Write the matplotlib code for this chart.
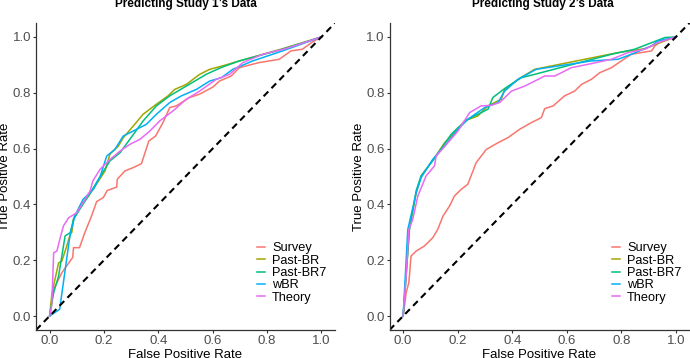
import matplotlib
matplotlib.use("Agg")
import matplotlib.pyplot as plt

plt.rcParams['font.family'] = ['Liberation Sans', 'DejaVu Sans']

series_names = ["Survey", "Past-BR", "Past-BR7", "wBR", "Theory"]
colors = ["#F8766D", "#A3A500", "#00BF7D", "#00B0F6", "#E76BF3"]
titles = ["Predicting Study 1\u2019s Data", "Predicting Study 2\u2019s Data"]
ticks = [0.0, 0.2, 0.4, 0.6, 0.8, 1.0]
tick_labels = ["0.0", "0.2", "0.4", "0.6", "0.8", "1.0"]

# ---- Study 1 ----
s1_survey_fpr = [0, 0.015, 0.045, 0.063, 0.085, 0.088, 0.11, 0.13, 0.155, 0.173, 0.198, 0.212, 0.247, 0.249, 0.277, 0.308, 0.338, 0.365, 0.39, 0.417, 0.442, 0.466, 0.515, 0.552, 0.6, 0.625, 0.668, 0.698, 0.77, 0.845, 0.888, 0.93, 0.967, 1.0]
s1_survey_tpr = [0, 0.096, 0.155, 0.18, 0.21, 0.245, 0.245, 0.3, 0.36, 0.41, 0.425, 0.45, 0.462, 0.49, 0.52, 0.532, 0.546, 0.627, 0.645, 0.693, 0.747, 0.753, 0.783, 0.795, 0.82, 0.842, 0.86, 0.89, 0.908, 0.92, 0.95, 0.956, 0.982, 1.0]

s1_pastbr_fpr = [0, 0.009, 0.033, 0.045, 0.063, 0.076, 0.082, 0.088, 0.112, 0.143, 0.18, 0.204, 0.222, 0.253, 0.271, 0.308, 0.344, 0.393, 0.436, 0.46, 0.503, 0.552, 0.589, 0.635, 0.698, 0.851, 1.0]
s1_pastbr_tpr = [0, 0.084, 0.19, 0.197, 0.25, 0.293, 0.30, 0.35, 0.394, 0.43, 0.484, 0.52, 0.58, 0.609, 0.639, 0.681, 0.723, 0.759, 0.789, 0.812, 0.83, 0.866, 0.884, 0.896, 0.914, 0.956, 1.0]

s1_pastbr7_fpr = [0, 0.015, 0.033, 0.057, 0.076, 0.088, 0.112, 0.149, 0.186, 0.222, 0.259, 0.295, 0.344, 0.393, 0.442, 0.503, 0.576, 0.63, 0.698, 0.857, 1.0]
s1_pastbr7_tpr = [0, 0.084, 0.143, 0.287, 0.299, 0.346, 0.384, 0.44, 0.5, 0.556, 0.585, 0.633, 0.699, 0.753, 0.789, 0.824, 0.866, 0.89, 0.914, 0.956, 1.0]

s1_wbr_fpr = [0, 0.037, 0.073, 0.08, 0.093, 0.123, 0.161, 0.186, 0.21, 0.24, 0.271, 0.308, 0.356, 0.393, 0.442, 0.485, 0.54, 0.589, 0.632, 0.674, 0.747, 0.857, 1.0]
s1_wbr_tpr = [0, 0.024, 0.275, 0.31, 0.358, 0.418, 0.454, 0.5, 0.573, 0.597, 0.645, 0.663, 0.687, 0.723, 0.765, 0.789, 0.812, 0.842, 0.854, 0.884, 0.914, 0.95, 1.0]

s1_theory_fpr = [0, 0.008, 0.015, 0.027, 0.039, 0.051, 0.07, 0.1, 0.123, 0.149, 0.159, 0.186, 0.222, 0.259, 0.295, 0.332, 0.369, 0.405, 0.454, 0.503, 0.552, 0.613, 0.662, 0.711, 0.784, 0.869, 1.0]
s1_theory_tpr = [0, 0.04, 0.227, 0.233, 0.28, 0.323, 0.352, 0.37, 0.406, 0.448, 0.484, 0.526, 0.561, 0.591, 0.615, 0.633, 0.663, 0.699, 0.735, 0.777, 0.806, 0.848, 0.866, 0.908, 0.938, 0.958, 1.0]

# ---- Study 2 ----
s2_survey_fpr = [0, 0.005, 0.011, 0.021, 0.029, 0.048, 0.078, 0.109, 0.127, 0.146, 0.17, 0.188, 0.213, 0.237, 0.268, 0.305, 0.348, 0.384, 0.427, 0.47, 0.507, 0.519, 0.55, 0.592, 0.629, 0.654, 0.69, 0.721, 0.764, 0.8, 0.837, 0.886, 0.911, 0.923, 0.947, 1.0]
s2_survey_tpr = [0, 0.036, 0.084, 0.12, 0.215, 0.233, 0.251, 0.281, 0.311, 0.358, 0.394, 0.43, 0.454, 0.472, 0.55, 0.597, 0.621, 0.639, 0.669, 0.693, 0.711, 0.743, 0.753, 0.789, 0.806, 0.83, 0.848, 0.872, 0.89, 0.914, 0.938, 0.946, 0.95, 0.968, 0.986, 1.0]

s2_pastbr_fpr = [0, 0.009, 0.023, 0.048, 0.066, 0.115, 0.152, 0.201, 0.225, 0.274, 0.311, 0.36, 0.372, 0.421, 0.482, 0.788, 0.886, 0.96, 1.0]
s2_pastbr_tpr = [0, 0.12, 0.31, 0.442, 0.502, 0.567, 0.621, 0.669, 0.699, 0.717, 0.753, 0.777, 0.812, 0.848, 0.884, 0.944, 0.958, 0.986, 1.0]

s2_pastbr7_fpr = [0, 0.009, 0.023, 0.048, 0.066, 0.115, 0.176, 0.201, 0.237, 0.311, 0.329, 0.372, 0.433, 0.482, 0.764, 0.849, 0.96, 1.0]
s2_pastbr7_tpr = [0, 0.12, 0.31, 0.45, 0.502, 0.565, 0.651, 0.675, 0.705, 0.741, 0.783, 0.815, 0.854, 0.866, 0.938, 0.956, 0.998, 1.0]

s2_wbr_fpr = [0, 0.017, 0.048, 0.066, 0.109, 0.152, 0.201, 0.237, 0.299, 0.348, 0.372, 0.421, 0.488, 0.568, 0.69, 0.788, 0.837, 0.911, 0.935, 1.0]
s2_wbr_tpr = [0, 0.31, 0.442, 0.496, 0.562, 0.609, 0.669, 0.705, 0.747, 0.765, 0.806, 0.848, 0.884, 0.896, 0.914, 0.92, 0.938, 0.968, 0.986, 1.0]

s2_theory_fpr = [0, 0.011, 0.021, 0.035, 0.054, 0.084, 0.115, 0.121, 0.164, 0.201, 0.244, 0.286, 0.323, 0.354, 0.397, 0.446, 0.495, 0.519, 0.556, 0.617, 0.678, 0.764, 0.825, 0.886, 0.935, 1.0]
s2_theory_tpr = [0, 0.143, 0.31, 0.346, 0.43, 0.502, 0.538, 0.573, 0.621, 0.663, 0.729, 0.753, 0.755, 0.765, 0.806, 0.824, 0.848, 0.86, 0.86, 0.89, 0.902, 0.92, 0.944, 0.956, 0.98, 1.0]

study1 = [(s1_survey_fpr, s1_survey_tpr), (s1_pastbr_fpr, s1_pastbr_tpr),
          (s1_pastbr7_fpr, s1_pastbr7_tpr), (s1_wbr_fpr, s1_wbr_tpr),
          (s1_theory_fpr, s1_theory_tpr)]
study2 = [(s2_survey_fpr, s2_survey_tpr), (s2_pastbr_fpr, s2_pastbr_tpr),
          (s2_pastbr7_fpr, s2_pastbr7_tpr), (s2_wbr_fpr, s2_wbr_tpr),
          (s2_theory_fpr, s2_theory_tpr)]

W, H = 690, 358
fig = plt.figure(figsize=(W / 100, H / 100), dpi=100)

panels = [
    dict(data=study1, rect=(36, 23, 335, 330), title=titles[0], tx=185.8,
         ylab_x=5.5, leg_x=256.7),
    dict(data=study2, rect=(389.5, 23, 689.5, 330), title=titles[1], tx=543.3,
         ylab_x=359.5, leg_x=611.7),
]

for p in panels:
    x0, y0, x1, y1 = p["rect"]
    ax = fig.add_axes([x0 / W, 1 - y1 / H, (x1 - x0) / W, (y1 - y0) / H])
    for (fpr, tpr), name, c in zip(p["data"], series_names, colors):
        ax.plot(fpr, tpr, color=c, lw=1.1, label=name, solid_joinstyle='round')
    ax.axline((0, 0), (1, 1), color='black', lw=1.5, linestyle=(0, (3.2, 2.2)))
    ax.set_xlim(-0.05, 1.05)
    ax.set_ylim(-0.05, 1.05)
    ax.set_xticks(ticks)
    ax.set_xticklabels(tick_labels)
    ax.set_yticks(ticks)
    ax.set_yticklabels(tick_labels)
    for s in ["top", "right"]:
        ax.spines[s].set_visible(False)
    for s in ["left", "bottom"]:
        ax.spines[s].set_color('#333333')
        ax.spines[s].set_linewidth(0.9)
    ax.tick_params(axis='both', length=2.0, width=0.8, color='#333333',
                   labelsize=9.5, labelcolor='#4D4D4D', pad=1.5)
    ax.legend(loc='lower left',
              bbox_to_anchor=((p["leg_x"] - x0) / (x1 - x0), (y1 - 303.5) / (y1 - y0)),
              frameon=False, fontsize=9.2, handlelength=0.66,
              handletextpad=0.55, labelspacing=0.02, borderpad=0,
              borderaxespad=0)
    fig.text(p["tx"] / W, 1 - 7.5 / H, p["title"], ha='center', va='baseline',
             fontsize=8.5, fontweight='bold')
    fig.text((x0 + x1) / 2 / W, 1 - 357.5 / H, "False Positive Rate", ha='center',
             va='baseline', fontsize=9.5)
    fig.text(p["ylab_x"] / W, 1 - 176.7 / H, "True Positive Rate", ha='center',
             va='center', rotation=90, fontsize=9.5)

fig.savefig("out.png", dpi=100)
